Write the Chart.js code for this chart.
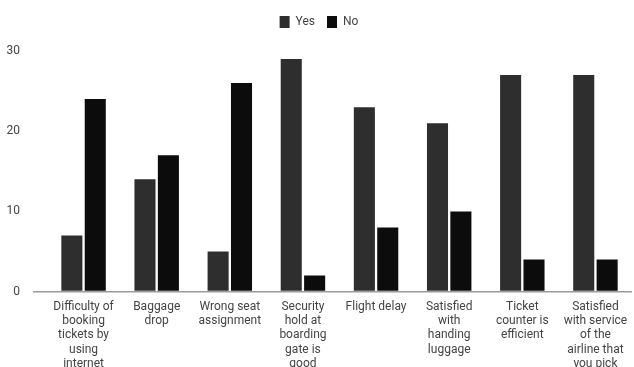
<!DOCTYPE html>
<html>
<head>
<meta charset="utf-8">
<script src="https://cdn.jsdelivr.net/npm/chart.js@4/dist/chart.umd.min.js"></script>
<style>
  html, body { margin: 0; padding: 0; background: #fff; }
  #wrap { width: 634px; height: 367px; }
</style>
</head>
<body>
<div id="wrap"><canvas id="c" width="634" height="367"></canvas></div>
<script>
// Survey answers per service aspect
const categories = [
  ["Difficulty of", "booking", "tickets by", "using", "internet"],
  ["Baggage", "drop"],
  ["Wrong seat", "assignment"],
  ["Security", "hold at", "boarding", "gate is", "good"],
  ["Flight delay"],
  ["Satisfied", "with", "handing", "luggage"],
  ["Ticket", "counter is", "efficient"],
  ["Satisfied", "with service", "of the", "airline that", "you pick"]
];
const yesValues = [7, 14, 5, 29, 23, 21, 27, 27];
const noValues = [24, 17, 26, 2, 8, 10, 4, 4];
const yTicks = [0, 10, 20, 30];

const textColor = '#444';
const fontFamily = 'Roboto, "Liberation Sans", sans-serif';

// Extra space below the legend before the plot starts
const legendSpacer = {
  id: 'legendSpacer',
  beforeInit(chart) {
    const fit = chart.legend.fit;
    chart.legend.fit = function () {
      fit.call(this);
      this.height += 13;
    };
  }
};

new Chart(document.getElementById('c'), {
  type: 'bar',
  data: {
    labels: categories,
    datasets: [
      { label: 'Yes', data: yesValues, backgroundColor: '#2e2e2e',
        categoryPercentage: 0.64, barPercentage: 0.9 },
      { label: 'No', data: noValues, backgroundColor: '#0c0c0c',
        categoryPercentage: 0.64, barPercentage: 0.9 }
    ]
  },
  plugins: [legendSpacer],
  options: {
    responsive: false,
    animation: false,
    layout: { padding: { left: 6, right: 2, top: 4, bottom: -4 } },
    plugins: {
      tooltip: { enabled: false },
      legend: {
        position: 'top',
        labels: {
          boxWidth: 10, boxHeight: 12, padding: 12,
          color: textColor, font: { family: fontFamily, size: 12 }
        }
      }
    },
    scales: {
      x: {
        grid: { display: false },
        border: { display: false },
        ticks: {
          color: textColor, padding: 0, maxRotation: 0, autoSkip: false,
          font: { family: fontFamily, size: 12, lineHeight: 1.19 }
        }
      },
      y: {
        min: 0, max: 30,
        afterBuildTicks: (axis) => { axis.ticks = yTicks.map(v => ({ value: v })); },
        afterFit: (axis) => { axis.width = 41; },
        border: { display: false },
        grid: {
          drawTicks: true, tickLength: 14,
          color: (ctx) => (ctx.tick && ctx.tick.value === 0) ? '#9a9a9a' : 'rgba(0,0,0,0)',
          lineWidth: 1.5
        },
        ticks: {
          color: textColor, padding: 13,
          font: { family: fontFamily, size: 12 }
        }
      }
    }
  }
});
</script>
</body>
</html>
